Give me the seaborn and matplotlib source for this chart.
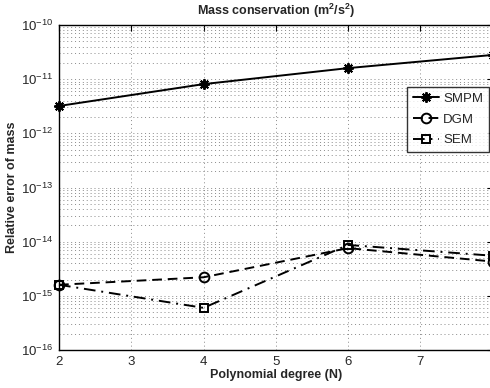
import numpy as np
import pandas as pd
import matplotlib
matplotlib.use("Agg")
import matplotlib.pyplot as plt
import seaborn as sns
from matplotlib.ticker import LogLocator, NullFormatter, FixedLocator

# Relative mass error vs polynomial degree for three discretisations
degree = [2, 4, 6, 8]
smpm = [3.2e-12, 8.1e-12, 1.6e-11, 2.8e-11]
dgm = [1.6e-15, 2.2e-15, 7.6e-15, 4.3e-15]
sem = [1.6e-15, 6.0e-16, 8.7e-15, 5.5e-15]
series_names = ["SMPM", "DGM", "SEM"]
x_ticks = [2, 3, 4, 5, 6, 7, 8]
y_decades = [1e-16, 1e-15, 1e-14, 1e-13, 1e-12, 1e-11, 1e-10]

df = pd.DataFrame({
    "N": degree * 3,
    "err": smpm + dgm + sem,
    "method": sum([[n] * len(degree) for n in series_names], []),
})

sns.set_style("white")
plt.rcParams["font.family"] = ["Liberation Sans", "DejaVu Sans"]
plt.rcParams["mathtext.default"] = "regular"

fig = plt.figure(figsize=(4.9, 3.88), dpi=100)
ax = fig.add_axes([59 / 490, 1 - 350 / 388, (492.6 - 59) / 490, (350 - 25) / 388])

styles = {
    "SMPM": dict(marker=(8, 2, 0), linestyle="-", ms=7.5),
    "DGM": dict(marker="o", linestyle=(0, (5, 3)), ms=7),
    "SEM": dict(marker="s", linestyle=(0, (6, 3, 1, 3)), ms=6),
}
for name in series_names:
    sub = df[df["method"] == name]
    st = styles[name]
    sns.lineplot(data=sub, x="N", y="err", ax=ax, color="black", lw=1.4,
                 marker=st["marker"], linestyle=st["linestyle"], markersize=st["ms"],
                 markerfacecolor="none" if name != "SMPM" else "black",
                 markeredgecolor="black", markeredgewidth=1.4, label=name,
                 clip_on=False)

ax.set_yscale("log")
ax.set_xlim(2, 8)
ax.set_ylim(1e-16, 1e-10)
ax.xaxis.set_major_locator(FixedLocator(x_ticks))
ax.yaxis.set_major_locator(FixedLocator(y_decades))
ax.yaxis.set_minor_locator(LogLocator(base=10, subs=np.arange(2, 10), numticks=20))
ax.yaxis.set_minor_formatter(NullFormatter())

ax.grid(True, which="major", linestyle=(0, (1, 3)), color="#8a8a8a", lw=0.7)
ax.grid(True, which="minor", axis="y", linestyle=(0, (1, 3)), color="#8a8a8a", lw=0.7)

ax.tick_params(which="both", direction="in", top=True, right=True, labelsize=9.5,
               color="black", pad=4)
ax.tick_params(which="major", length=4)
ax.tick_params(which="minor", length=2)
for sp in ax.spines.values():
    sp.set_color("black")
    sp.set_linewidth(1.0)

ax.set_xlabel("Polynomial degree (N)", fontsize=9, fontweight="bold", labelpad=1)
ax.set_ylabel("Relative error of mass", fontsize=9, fontweight="bold", labelpad=2)
ax.set_title("Mass conservation (m$^2$/s$^2$)", fontsize=9, fontweight="bold", pad=7)

leg = ax.legend(loc="upper right", bbox_to_anchor=(1 - 3.6 / 433.6, 1 - 61.7 / 325),
                frameon=True, fancybox=False, edgecolor="black", fontsize=9.5,
                handlelength=2.0, handletextpad=0.3, borderpad=0.45, labelspacing=0.65,
                borderaxespad=0)
leg.get_frame().set_linewidth(1.0)

fig.savefig("out.png", dpi=100)
